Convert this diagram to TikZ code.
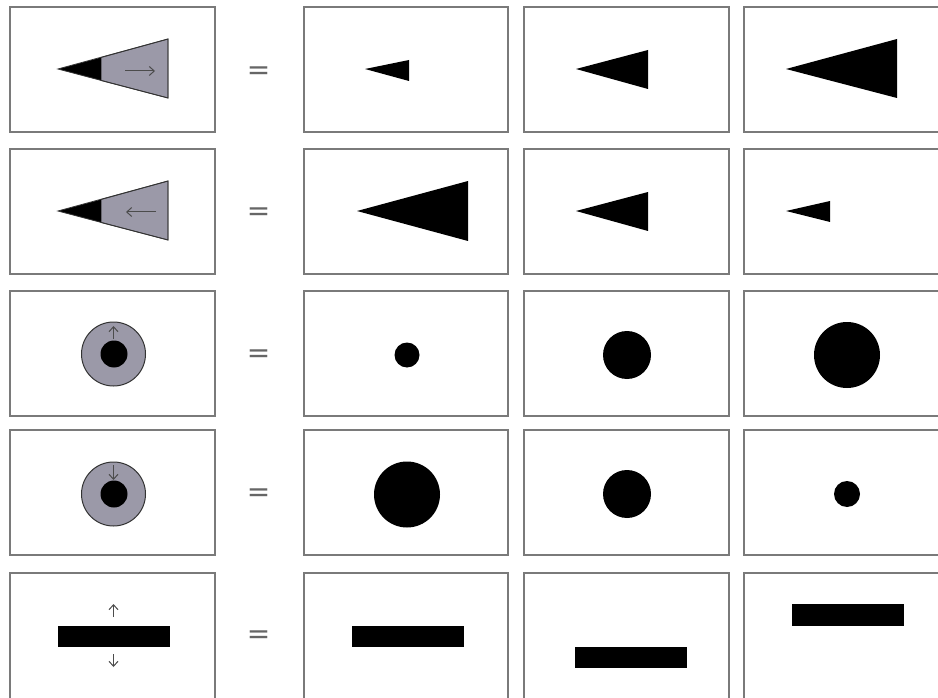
\documentclass[tikz,border=0pt]{standalone}
\usepackage{fontspec}
\setmainfont{DejaVu Sans}
\usetikzlibrary{arrows.meta}
\definecolor{boxgrey}{HTML}{7A7A7A}
\definecolor{wedge}{HTML}{9B99A8}
\definecolor{eqgrey}{HTML}{666666}
\tikzset{
  panel/.style={draw=boxgrey, line width=1.3pt, fill=white},
  blk/.style={fill=black},
  grayfill/.style={fill=wedge, draw=black!80, line width=0.8pt},
  mover/.style={draw=black!70, line width=1pt, -{Straight Barb[length=5pt,width=9pt]}},
  eqsign/.style={text=eqgrey, font=\fontsize{28}{28}\selectfont, inner sep=0pt}
}
\begin{document}
\begin{tikzpicture}[x=1pt,y=-1pt]
\useasboundingbox (0,0) rectangle (938,698);
\clip (0,0) rectangle (938,698);
% panels
\foreach \y/\h in {7/132,149/274,291/416,430/555,573/710}{
  \foreach \xa/\xb in {10/215,304/508,524/729,744/960}{
    \draw[panel] (\xa,\y) rectangle (\xb,\h);
  }
}
% equal signs
\foreach \n/\yc in {1/73,2/214,3/356,4/495,5/637}{
  \node[eqsign] (eq\n) at (258.5,\yc) {=};
}
% Row 1
\fill[grayfill] (101,57.5) -- (168,39) -- (168,98) -- (101,80.5) -- cycle;
\fill[blk] (58,69) -- (101,57.5) -- (101,80.5) -- cycle;
\draw[black!80, line width=0.8pt] (58,69) -- (168,39) -- (168,98) -- cycle;
\coordinate (a1s) at (125,71); \coordinate (a1e) at (155,71);
\draw[mover] (a1s) -- (a1e);
\fill[blk] (365,69) -- (409,60) -- (409,81) -- cycle;
\fill[blk] (576,69) -- (648,50) -- (648,89) -- cycle;
\fill[blk] (786,69) -- (897,39) -- (897,98) -- cycle;
% Row 2
\fill[grayfill] (101,199.5) -- (168,181) -- (168,240) -- (101,222.5) -- cycle;
\fill[blk] (58,211) -- (101,199.5) -- (101,222.5) -- cycle;
\draw[black!80, line width=0.8pt] (58,211) -- (168,181) -- (168,240) -- cycle;
\coordinate (a2s) at (156,212); \coordinate (a2e) at (126,212);
\draw[mover] (a2s) -- (a2e);
\fill[blk] (357,211) -- (468,181) -- (468,241) -- cycle;
\fill[blk] (576,211) -- (648,192) -- (648,231) -- cycle;
\fill[blk] (786,211) -- (830,201) -- (830,222) -- cycle;
% Row 3
\draw[grayfill, line width=1pt] (113.5,354) circle (32);
\fill[blk] (114,354) circle (13.5);
\coordinate (a3s) at (113.5,339); \coordinate (a3e) at (113.5,326);
\draw[mover] (a3s) -- (a3e);
\fill[blk] (407,355) circle (12.5);
\fill[blk] (627,355) circle (24);
\fill[blk] (847,355) circle (33);
% Row 4
\draw[grayfill, line width=1pt] (113.5,494) circle (32);
\fill[blk] (114,494) circle (13.5);
\coordinate (a4s) at (113.5,465); \coordinate (a4e) at (113.5,480);
\draw[mover] (a4s) -- (a4e);
\fill[blk] (407,494.5) circle (33);
\fill[blk] (627,494) circle (24);
\fill[blk] (847,494) circle (13);
% Row 5
\fill[blk] (58,626) rectangle (170,647);
\coordinate (a5s) at (113.5,617); \coordinate (a5e) at (113.5,604);
\draw[mover] (a5s) -- (a5e);
\coordinate (a6s) at (113.5,654); \coordinate (a6e) at (113.5,667);
\draw[mover] (a6s) -- (a6e);
\fill[blk] (352,626) rectangle (464,647);
\fill[blk] (575,647) rectangle (687,668);
\fill[blk] (792,604) rectangle (904,626);
\end{tikzpicture}
\end{document}
